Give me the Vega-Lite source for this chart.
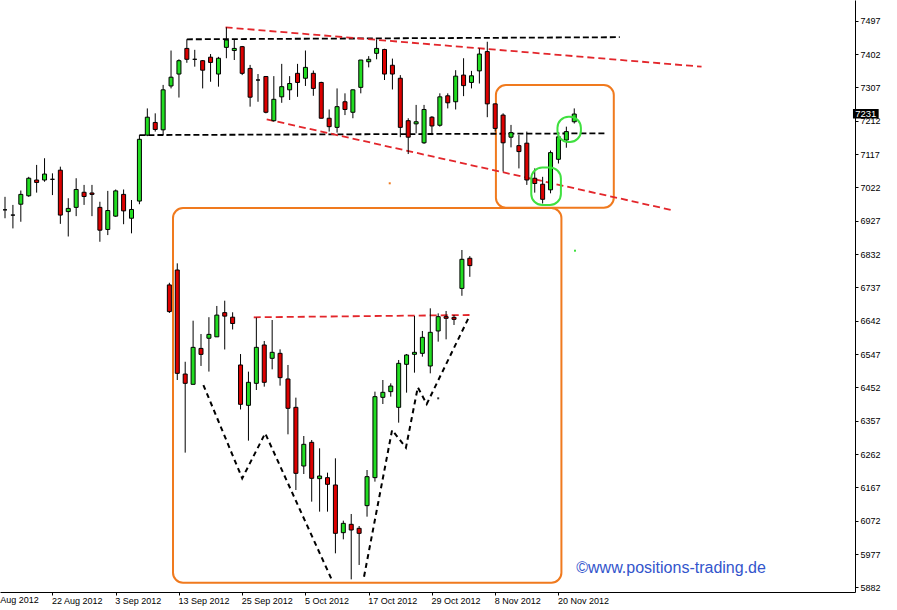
{
  "$schema": "https://vega.github.io/schema/vega-lite/v6.json",
  "width": 855,
  "height": 592,
  "autosize": {"type": "none"},
  "padding": {"left": 0, "top": 0, "right": 42, "bottom": 18},
  "background": "white",
  "config": {
    "view": {"stroke": null},
    "axis": {"grid": false, "domainColor": "black", "tickColor": "black", "labelColor": "black", "labelFont": "Liberation Sans", "tickSize": 3, "labelOverlap": false, "labelBound": false, "labelFlush": false}
  },
  "datasets": {
    "candles": [
      {"set": "main", "i": -6, "o": 6958, "h": 6995, "l": 6934, "c": 6958},
      {"set": "main", "i": -5, "o": 6943, "h": 6972, "l": 6905, "c": 6943},
      {"set": "main", "i": -4, "o": 6974, "h": 7013, "l": 6924, "c": 7002},
      {"set": "main", "i": -3, "o": 6998, "h": 7052, "l": 6995, "c": 7048},
      {"set": "main", "i": -2, "o": 7043, "h": 7086, "l": 7007, "c": 7036},
      {"set": "main", "i": -1, "o": 7043, "h": 7105, "l": 7038, "c": 7060},
      {"set": "main", "i": 0, "o": 7045, "h": 7062, "l": 7000, "c": 7045},
      {"set": "main", "i": 1, "o": 7071, "h": 7081, "l": 6918, "c": 6943},
      {"set": "main", "i": 2, "o": 6953, "h": 6991, "l": 6882, "c": 6962},
      {"set": "main", "i": 3, "o": 6965, "h": 7048, "l": 6940, "c": 7016},
      {"set": "main", "i": 4, "o": 7008, "h": 7029, "l": 6972, "c": 6996},
      {"set": "main", "i": 5, "o": 7006, "h": 7029, "l": 6940, "c": 7002},
      {"set": "main", "i": 6, "o": 6965, "h": 6981, "l": 6867, "c": 6900},
      {"set": "main", "i": 7, "o": 6902, "h": 7012, "l": 6886, "c": 6956},
      {"set": "main", "i": 8, "o": 6940, "h": 7016, "l": 6938, "c": 7012},
      {"set": "main", "i": 9, "o": 7002, "h": 7016, "l": 6917, "c": 6955},
      {"set": "main", "i": 10, "o": 6934, "h": 6986, "l": 6891, "c": 6959},
      {"set": "main", "i": 11, "o": 6983, "h": 7171, "l": 6974, "c": 7159},
      {"set": "main", "i": 12, "o": 7171, "h": 7247, "l": 7168, "c": 7222},
      {"set": "main", "i": 13, "o": 7207, "h": 7233, "l": 7181, "c": 7187},
      {"set": "main", "i": 14, "o": 7186, "h": 7314, "l": 7171, "c": 7300},
      {"set": "main", "i": 15, "o": 7311, "h": 7412, "l": 7304, "c": 7336},
      {"set": "main", "i": 16, "o": 7345, "h": 7387, "l": 7278, "c": 7383},
      {"set": "main", "i": 17, "o": 7418, "h": 7444, "l": 7377, "c": 7387},
      {"set": "main", "i": 18, "o": 7387, "h": 7414, "l": 7366, "c": 7387},
      {"set": "main", "i": 19, "o": 7383, "h": 7385, "l": 7304, "c": 7356},
      {"set": "main", "i": 20, "o": 7393, "h": 7402, "l": 7323, "c": 7378},
      {"set": "main", "i": 21, "o": 7345, "h": 7394, "l": 7309, "c": 7390},
      {"set": "main", "i": 22, "o": 7421, "h": 7478, "l": 7390, "c": 7442},
      {"set": "main", "i": 23, "o": 7412, "h": 7444, "l": 7385, "c": 7418},
      {"set": "main", "i": 24, "o": 7423, "h": 7425, "l": 7342, "c": 7347},
      {"set": "main", "i": 25, "o": 7361, "h": 7371, "l": 7252, "c": 7279},
      {"set": "main", "i": 26, "o": 7328, "h": 7345, "l": 7266, "c": 7328},
      {"set": "main", "i": 27, "o": 7338, "h": 7339, "l": 7233, "c": 7236},
      {"set": "main", "i": 28, "o": 7212, "h": 7339, "l": 7209, "c": 7273},
      {"set": "main", "i": 29, "o": 7280, "h": 7374, "l": 7263, "c": 7309},
      {"set": "main", "i": 30, "o": 7300, "h": 7339, "l": 7271, "c": 7318},
      {"set": "main", "i": 31, "o": 7347, "h": 7374, "l": 7280, "c": 7321},
      {"set": "main", "i": 32, "o": 7333, "h": 7412, "l": 7311, "c": 7364},
      {"set": "main", "i": 33, "o": 7347, "h": 7355, "l": 7283, "c": 7304},
      {"set": "main", "i": 34, "o": 7321, "h": 7323, "l": 7219, "c": 7219},
      {"set": "main", "i": 35, "o": 7219, "h": 7244, "l": 7181, "c": 7195},
      {"set": "main", "i": 36, "o": 7193, "h": 7304, "l": 7178, "c": 7252},
      {"set": "main", "i": 37, "o": 7266, "h": 7290, "l": 7228, "c": 7244},
      {"set": "main", "i": 38, "o": 7236, "h": 7301, "l": 7219, "c": 7300},
      {"set": "main", "i": 39, "o": 7307, "h": 7385, "l": 7290, "c": 7385},
      {"set": "main", "i": 40, "o": 7380, "h": 7396, "l": 7364, "c": 7387},
      {"set": "main", "i": 41, "o": 7404, "h": 7444, "l": 7387, "c": 7418},
      {"set": "main", "i": 42, "o": 7415, "h": 7417, "l": 7328, "c": 7345},
      {"set": "main", "i": 43, "o": 7370, "h": 7389, "l": 7301, "c": 7345},
      {"set": "main", "i": 44, "o": 7333, "h": 7342, "l": 7165, "c": 7193},
      {"set": "main", "i": 45, "o": 7212, "h": 7219, "l": 7117, "c": 7165},
      {"set": "main", "i": 46, "o": 7203, "h": 7257, "l": 7176, "c": 7209},
      {"set": "main", "i": 47, "o": 7149, "h": 7257, "l": 7146, "c": 7244},
      {"set": "main", "i": 48, "o": 7222, "h": 7225, "l": 7171, "c": 7197},
      {"set": "main", "i": 49, "o": 7199, "h": 7290, "l": 7195, "c": 7280},
      {"set": "main", "i": 50, "o": 7283, "h": 7290, "l": 7247, "c": 7263},
      {"set": "main", "i": 51, "o": 7266, "h": 7356, "l": 7244, "c": 7339},
      {"set": "main", "i": 52, "o": 7342, "h": 7390, "l": 7282, "c": 7312},
      {"set": "main", "i": 53, "o": 7321, "h": 7354, "l": 7304, "c": 7340},
      {"set": "main", "i": 54, "o": 7354, "h": 7418, "l": 7318, "c": 7402},
      {"set": "main", "i": 55, "o": 7409, "h": 7437, "l": 7222, "c": 7260},
      {"set": "main", "i": 56, "o": 7260, "h": 7261, "l": 7181, "c": 7190},
      {"set": "main", "i": 57, "o": 7228, "h": 7233, "l": 7067, "c": 7149},
      {"set": "main", "i": 58, "o": 7165, "h": 7200, "l": 7136, "c": 7178},
      {"set": "main", "i": 59, "o": 7141, "h": 7171, "l": 7076, "c": 7124},
      {"set": "main", "i": 60, "o": 7148, "h": 7181, "l": 7029, "c": 7043},
      {"set": "main", "i": 61, "o": 7048, "h": 7076, "l": 7007, "c": 7033},
      {"set": "main", "i": 62, "o": 7031, "h": 7052, "l": 6976, "c": 6988},
      {"set": "main", "i": 63, "o": 7015, "h": 7127, "l": 7005, "c": 7121},
      {"set": "main", "i": 64, "o": 7102, "h": 7178, "l": 7090, "c": 7166},
      {"set": "main", "i": 65, "o": 7157, "h": 7195, "l": 7135, "c": 7181},
      {"set": "main", "i": 66, "o": 7209, "h": 7247, "l": 7204, "c": 7231},
      {"set": "inset", "i": 14.79, "o": 6744, "h": 6750, "l": 6664, "c": 6668},
      {"set": "inset", "i": 15.79, "o": 6786.5, "h": 6805.5, "l": 6473, "c": 6492},
      {"set": "inset", "i": 16.79, "o": 6490, "h": 6525, "l": 6266, "c": 6463.5},
      {"set": "inset", "i": 17.79, "o": 6460.7, "h": 6642, "l": 6460.7, "c": 6566},
      {"set": "inset", "i": 18.79, "o": 6563, "h": 6604, "l": 6513, "c": 6546},
      {"set": "inset", "i": 19.79, "o": 6592, "h": 6652, "l": 6497, "c": 6603},
      {"set": "inset", "i": 20.79, "o": 6596, "h": 6684, "l": 6596, "c": 6658},
      {"set": "inset", "i": 21.79, "o": 6665, "h": 6699, "l": 6560, "c": 6655},
      {"set": "inset", "i": 22.79, "o": 6652, "h": 6666, "l": 6617, "c": 6634},
      {"set": "inset", "i": 23.79, "o": 6515.8, "h": 6547, "l": 6389, "c": 6403.7},
      {"set": "inset", "i": 24.79, "o": 6400.8, "h": 6496.8, "l": 6300.1, "c": 6466.4},
      {"set": "inset", "i": 25.79, "o": 6463.5, "h": 6650.7, "l": 6444.5, "c": 6566.1},
      {"set": "inset", "i": 26.79, "o": 6572.8, "h": 6584.2, "l": 6454, "c": 6466.4},
      {"set": "inset", "i": 27.79, "o": 6534.8, "h": 6644, "l": 6503.4, "c": 6551.9},
      {"set": "inset", "i": 28.79, "o": 6549, "h": 6560.4, "l": 6456.9, "c": 6479.7},
      {"set": "inset", "i": 29.79, "o": 6475.9, "h": 6515.8, "l": 6318.2, "c": 6392.3},
      {"set": "inset", "i": 30.79, "o": 6395.1, "h": 6422.7, "l": 6159.5, "c": 6207},
      {"set": "inset", "i": 31.79, "o": 6227.9, "h": 6313.4, "l": 6205.1, "c": 6289.7},
      {"set": "inset", "i": 32.79, "o": 6295.4, "h": 6302, "l": 6126.3, "c": 6192.8},
      {"set": "inset", "i": 33.79, "o": 6191.8, "h": 6278.3, "l": 6097.8, "c": 6199.4},
      {"set": "inset", "i": 34.79, "o": 6194.7, "h": 6208.9, "l": 6097.8, "c": 6175.7},
      {"set": "inset", "i": 35.79, "o": 6173.8, "h": 6249.8, "l": 5979, "c": 6036},
      {"set": "inset", "i": 36.79, "o": 6037.9, "h": 6072.1, "l": 6018.9, "c": 6064.5},
      {"set": "inset", "i": 37.79, "o": 6061.7, "h": 6091.1, "l": 5904.9, "c": 6045.5},
      {"set": "inset", "i": 38.79, "o": 6050.3, "h": 6056.9, "l": 5945.8, "c": 6036},
      {"set": "inset", "i": 39.79, "o": 6114.9, "h": 6216.5, "l": 6083.5, "c": 6197.5},
      {"set": "inset", "i": 40.79, "o": 6194.7, "h": 6439.8, "l": 6183.3, "c": 6425.5},
      {"set": "inset", "i": 41.79, "o": 6423.6, "h": 6473, "l": 6404.6, "c": 6437.9},
      {"set": "inset", "i": 42.79, "o": 6439.8, "h": 6463.5, "l": 6425.5, "c": 6455.9},
      {"set": "inset", "i": 43.79, "o": 6395.1, "h": 6530, "l": 6351.4, "c": 6520.5},
      {"set": "inset", "i": 44.79, "o": 6517.7, "h": 6547.1, "l": 6436.9, "c": 6544.3},
      {"set": "inset", "i": 45.79, "o": 6546.2, "h": 6655.4, "l": 6493.9, "c": 6551.9},
      {"set": "inset", "i": 46.79, "o": 6549, "h": 6612.7, "l": 6539.5, "c": 6594.6},
      {"set": "inset", "i": 47.79, "o": 6512.9, "h": 6677.3, "l": 6492, "c": 6608.9},
      {"set": "inset", "i": 48.79, "o": 6612.7, "h": 6663, "l": 6582.3, "c": 6653.5},
      {"set": "inset", "i": 49.79, "o": 6653.5, "h": 6669.7, "l": 6588.9, "c": 6648.8},
      {"set": "inset", "i": 50.79, "o": 6651.6, "h": 6658.3, "l": 6629.8, "c": 6645.9},
      {"set": "inset", "i": 51.79, "o": 6734, "h": 6843.5, "l": 6713, "c": 6817},
      {"set": "inset", "i": 52.79, "o": 6820, "h": 6826, "l": 6767, "c": 6799}
    ],
    "blackLines": [
      {"id": "top", "k": 0, "i": 17, "v": 7444},
      {"id": "top", "k": 1, "i": 71.75, "v": 7450},
      {"id": "neck", "k": 0, "i": 11, "v": 7171},
      {"id": "neck", "k": 1, "i": 70.1, "v": 7176}
    ],
    "redLines": [
      {"id": "upper", "k": 0, "i": 21.9, "v": 7478},
      {"id": "upper", "k": 1, "i": 82.1, "v": 7366},
      {"id": "lower", "k": 0, "i": 27.1, "v": 7216},
      {"id": "lower", "k": 1, "i": 78.66, "v": 6955.5},
      {"id": "insetNeck", "k": 0, "i": 25.46, "v": 6651.7},
      {"id": "insetNeck", "k": 1, "i": 52.75, "v": 6658.2}
    ],
    "insetLines": [
      {"id": "A", "k": 0, "i": 19.09, "v": 6458.7},
      {"id": "A", "k": 1, "i": 24, "v": 6192.8},
      {"id": "A", "k": 2, "i": 26.91, "v": 6321.1},
      {"id": "A", "k": 3, "i": 35.25, "v": 5907.8},
      {"id": "B", "k": 0, "i": 39.41, "v": 5912.4},
      {"id": "B", "k": 1, "i": 42.96, "v": 6330.5},
      {"id": "B", "k": 2, "i": 44.71, "v": 6280},
      {"id": "B", "k": 3, "i": 46.21, "v": 6452.2},
      {"id": "B", "k": 4, "i": 47.34, "v": 6404.6},
      {"id": "B", "k": 5, "i": 52.75, "v": 6655.4}
    ],
    "orangeBoxes": [
      {"i1": 56.09, "i2": 71, "v1": 7313.7, "v2": 6964},
      {"i1": 15.25, "i2": 64.375, "v1": 6963.2, "v2": 5895.3}
    ],
    "greenRings": [
      {"i1": 60.56, "i2": 64.31, "v1": 7078.6, "v2": 6971.7},
      {"i1": 63.875, "i2": 66.84, "v1": 7223.4, "v2": 7151.3}
    ],
    "dots": [
      {"i": 42.66, "v": 7033.6, "col": "orange"},
      {"i": 66.09, "v": 6841.5, "col": "green"},
      {"i": 48.79, "v": 6420.8, "col": "black"}
    ]
  },
  "layer": [
    {
      "data": {"name": "orangeBoxes"},
      "mark": {"type": "rect", "fillOpacity": 0, "stroke": "#f07a1e", "strokeWidth": 2, "cornerRadius": 10},
      "encoding": {
        "x": {"field": "i1", "type": "quantitative", "title": null, "scale": {"domain": [-6, 100.875], "nice": false, "zero": false},
          "axis": {"orient": "bottom", "title": null, "values": [0, 8, 16, 24, 32, 40, 48, 56, 64], "tickCount": 40,
            "labelExpr": "['22 Aug 2012','3 Sep 2012','13 Sep 2012','25 Sep 2012','5 Oct 2012','17 Oct 2012','29 Oct 2012','8 Nov 2012','20 Nov 2012'][datum.value/8]",
            "labelAlign": "left", "labelFontSize": 9, "labelOffset": -1, "labelPadding": 1, "tickSize": 3, "labelOverlap": false, "labelBound": false, "labelFlush": false}},
        "x2": {"field": "i2"},
        "y": {"field": "v1", "type": "quantitative", "title": null, "scale": {"domain": [5868.8, 7556], "nice": false, "zero": false},
          "axis": {"orient": "right", "title": null, "values": [5882, 5977, 6072, 6167, 6262, 6357, 6452, 6547, 6642, 6737, 6832, 6927, 7022, 7117, 7212, 7307, 7402, 7497], "tickCount": 40,
            "format": "d", "labelFontSize": 9, "labelPadding": 2, "tickSize": 3, "labelOverlap": false, "labelBound": false, "labelFlush": false}},
        "y2": {"field": "v2"}
      }
    },
    {
      "data": {"name": "blackLines"},
      "mark": {"type": "line", "color": "black", "strokeWidth": 1.8, "strokeDash": [6, 3]},
      "encoding": {
        "x": {"field": "i", "type": "quantitative", "title": null},
        "y": {"field": "v", "type": "quantitative", "title": null},
        "detail": {"field": "id"},
        "order": {"field": "k"}
      }
    },
    {
      "data": {"name": "redLines"},
      "mark": {"type": "line", "color": "#e3262b", "strokeWidth": 1.8, "strokeDash": [7, 4]},
      "encoding": {
        "x": {"field": "i", "type": "quantitative", "title": null},
        "y": {"field": "v", "type": "quantitative", "title": null},
        "detail": {"field": "id"},
        "order": {"field": "k"}
      }
    },
    {
      "data": {"name": "insetLines"},
      "mark": {"type": "line", "color": "black", "strokeWidth": 2, "strokeDash": [5, 4]},
      "encoding": {
        "x": {"field": "i", "type": "quantitative", "title": null},
        "y": {"field": "v", "type": "quantitative", "title": null},
        "detail": {"field": "id"},
        "order": {"field": "k"}
      }
    },
    {
      "data": {"name": "candles"},
      "mark": {"type": "rule", "color": "black", "strokeWidth": 1},
      "encoding": {
        "x": {"field": "i", "type": "quantitative", "title": null},
        "y": {"field": "l", "type": "quantitative", "title": null},
        "y2": {"field": "h"}
      }
    },
    {
      "data": {"name": "candles"},
      "mark": {"type": "bar", "size": 4, "stroke": "black", "strokeWidth": 1},
      "encoding": {
        "x": {"field": "i", "type": "quantitative", "title": null},
        "y": {"field": "o", "type": "quantitative", "title": null},
        "y2": {"field": "c"},
        "fill": {"condition": {"test": "datum.c >= datum.o", "value": "#22dd22"}, "value": "#dd0000"}
      }
    },
    {
      "data": {"name": "greenRings"},
      "mark": {"type": "rect", "fillOpacity": 0, "stroke": "#3fe03f", "strokeWidth": 2, "cornerRadius": 11},
      "encoding": {
        "x": {"field": "i1", "type": "quantitative", "title": null},
        "x2": {"field": "i2"},
        "y": {"field": "v1", "type": "quantitative", "title": null},
        "y2": {"field": "v2"}
      }
    },
    {
      "data": {"name": "dots"},
      "mark": {"type": "square", "size": 4, "opacity": 1},
      "encoding": {
        "x": {"field": "i", "type": "quantitative", "title": null},
        "y": {"field": "v", "type": "quantitative", "title": null},
        "color": {"field": "col", "type": "nominal", "scale": {"domain": ["orange", "green", "black"], "range": ["#f07a1e", "#3fe03f", "#333333"]}, "legend": null}
      }
    },
    {
      "data": {"values": [{"price": 7231}]},
      "mark": {"type": "rect", "color": "black"},
      "encoding": {
        "x": {"datum": 101.25, "type": "quantitative", "title": null},
        "x2": {"datum": 104.5},
        "y": {"datum": 7245.3, "type": "quantitative", "title": null},
        "y2": {"datum": 7218.3}
      }
    },
    {
      "data": {"values": [{"price": 7231}]},
      "mark": {"type": "text", "color": "white", "font": "Liberation Sans", "fontSize": 9.5, "align": "center", "baseline": "middle"},
      "encoding": {
        "x": {"datum": 102.875, "type": "quantitative", "title": null},
        "y": {"field": "price", "type": "quantitative", "title": null},
        "text": {"field": "price", "type": "quantitative", "format": "d"}
      }
    },
    {
      "data": {"values": [{"label": "10 Aug 2012", "i": -8}]},
      "mark": {"type": "text", "color": "black", "font": "Liberation Sans", "fontSize": 9, "align": "left", "baseline": "top", "dx": -1},
      "encoding": {
        "x": {"field": "i", "type": "quantitative", "title": null},
        "y": {"datum": 5868.8, "type": "quantitative", "title": null},
        "yOffset": {"value": 4},
        "text": {"field": "label"}
      }
    },
    {
      "data": {"values": [{"label": "©www.positions-trading.de"}]},
      "mark": {"type": "text", "color": "#3355cc", "font": "Liberation Sans", "fontSize": 16, "align": "left", "baseline": "middle"},
      "encoding": {
        "x": {"datum": 66.25, "type": "quantitative", "title": null},
        "y": {"datum": 5938, "type": "quantitative", "title": null},
        "text": {"field": "label"}
      }
    }
  ]
}
